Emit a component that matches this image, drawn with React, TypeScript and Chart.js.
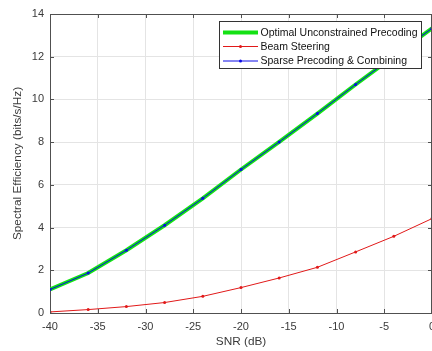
import React, { useEffect, useRef } from "react";
import { Chart, registerables } from "chart.js";

Chart.register(...registerables);

const snr = [-40, -36, -32, -28, -24, -20, -16, -12, -8, -4, 0];
const optimal = [1.1, 1.87, 2.94, 4.11, 5.37, 6.72, 8.01, 9.34, 10.7, 12.02, 13.33];
const beam = [0.05, 0.16, 0.3, 0.49, 0.78, 1.19, 1.64, 2.14, 2.86, 3.59, 4.42];
const sparse = [1.1, 1.87, 2.94, 4.11, 5.37, 6.72, 8.01, 9.34, 10.7, 12.02, 13.33];
const seriesNames = [
  "Optimal Unconstrained Precoding",
  "Beam Steering",
  "Sparse Precoding & Combining",
];
const xTitle = "SNR (dB)";
const yTitle = "Spectral Efficiency (bits/s/Hz)";

const GREEN = "rgb(20,225,20)";
const RED = "rgb(225,25,25)";
const BLUE = "rgb(10,10,230)";
const AXIS = "#505050";
const TEXT = "#3a3a3a";
const FONT = "'Liberation Sans', Arial, Helvetica, sans-serif";

const boxPlugin = {
  id: "matlabBox",
  afterDatasetsDraw(chart: any) {
    const { ctx, chartArea } = chart;
    const { left, right, top, bottom } = chartArea;
    ctx.save();
    ctx.strokeStyle = AXIS;
    ctx.lineWidth = 1;
    ctx.beginPath();
    ctx.moveTo(left, top + 0.5);
    ctx.lineTo(right, top + 0.5);
    ctx.moveTo(right - 0.5, top);
    ctx.lineTo(right - 0.5, bottom);
    ctx.stroke();
    // inward ticks
    const xs = chart.scales.x;
    const ys = chart.scales.y;
    ctx.beginPath();
    xs.ticks.forEach((t: any) => {
      const px = Math.round(xs.getPixelForValue(t.value)) + 0.5;
      ctx.moveTo(px, bottom);
      ctx.lineTo(px, bottom - 4);
      ctx.moveTo(px, top);
      ctx.lineTo(px, top + 4);
    });
    ys.ticks.forEach((t: any) => {
      const py = Math.round(ys.getPixelForValue(t.value)) + 0.5;
      ctx.moveTo(left, py);
      ctx.lineTo(left + 4, py);
      ctx.moveTo(right, py);
      ctx.lineTo(right - 4, py);
    });
    ctx.stroke();

    // legend
    const lx = 219.5, ly = 21.5, lw = 202, lh = 47;
    ctx.fillStyle = "#ffffff";
    ctx.fillRect(lx, ly, lw, lh);
    ctx.strokeStyle = "#333333";
    ctx.strokeRect(lx, ly, lw, lh);
    const rows = [32.5, 46.5, 61];
    const colors = [GREEN, RED, BLUE];
    const widths = [4, 1, 1];
    ctx.font = `10.5px ${FONT}`;
    ctx.textBaseline = "middle";
    ctx.textAlign = "left";
    rows.forEach((ry, i) => {
      ctx.strokeStyle = colors[i];
      ctx.lineWidth = widths[i];
      ctx.beginPath();
      ctx.moveTo(223, ry);
      ctx.lineTo(258, ry);
      ctx.stroke();
      if (i > 0) {
        ctx.fillStyle = colors[i];
        ctx.beginPath();
        ctx.arc(240.5, ry, 1.5, 0, Math.PI * 2);
        ctx.fill();
      }
      ctx.fillStyle = "#111111";
      ctx.fillText(seriesNames[i], 260.5, ry + 0.5);
    });
    ctx.restore();
  },
};

export default function App() {
  const ref = useRef<HTMLCanvasElement | null>(null);
  useEffect(() => {
    if (!ref.current) return;
    const toPts = (arr: number[]) => snr.map((x, i) => ({ x, y: arr[i] }));
    const chart = new Chart(ref.current, {
      type: "line",
      data: {
        datasets: [
          {
            label: seriesNames[0],
            data: toPts(optimal),
            borderColor: GREEN,
            backgroundColor: GREEN,
            borderWidth: 4,
            pointRadius: 0,
            order: 2,
          },
          {
            label: seriesNames[1],
            data: toPts(beam),
            borderColor: RED,
            backgroundColor: RED,
            borderWidth: 1,
            pointRadius: 1.5,
            pointBorderWidth: 0,
            order: 1,
          },
          {
            label: seriesNames[2],
            data: toPts(sparse),
            borderColor: BLUE,
            backgroundColor: BLUE,
            borderWidth: 1,
            pointRadius: 1.5,
            pointBorderWidth: 0,
            order: 0,
          },
        ],
      },
      options: {
        animation: false,
        responsive: false,
        maintainAspectRatio: false,
        layout: { padding: { left: 0, top: 14, right: 20, bottom: 0 } },
        plugins: { legend: { display: false }, tooltip: { enabled: false } },
        elements: { line: { tension: 0 } },
        scales: {
          x: {
            type: "linear",
            min: -40,
            max: 0,
            ticks: {
              stepSize: 5,
              color: TEXT,
              font: { family: FONT, size: 11 },
              padding: 7,
            },
            grid: { color: "#e4e4e4", drawTicks: false },
            border: { display: true, color: AXIS, width: 1 },
            title: {
              display: true,
              text: xTitle,
              color: TEXT,
              font: { family: FONT, size: 11.8 },
              padding: { top: 0, bottom: 2 },
            },
            afterFit(scale: any) {
              scale.height = 38;
            },
          },
          y: {
            type: "linear",
            min: 0,
            max: 14,
            ticks: {
              stepSize: 2,
              color: TEXT,
              font: { family: FONT, size: 11 },
              padding: 6,
            },
            grid: { color: "#e4e4e4", drawTicks: false },
            border: { display: true, color: AXIS, width: 1 },
            title: {
              display: true,
              text: yTitle,
              color: TEXT,
              font: { family: FONT, size: 11.8 },
              padding: { top: 11, bottom: 11 },
            },
            afterFit(scale: any) {
              scale.width = 50;
            },
          },
        },
      },
      plugins: [boxPlugin],
    } as any);
    return () => chart.destroy();
  }, []);
  return (
    <div
      style={{
        position: "absolute",
        left: 0,
        top: 0,
        width: 432,
        height: 351,
        overflow: "hidden",
        background: "#fff",
      }}
    >
      <canvas ref={ref} width={452} height={351} style={{ display: "block", width: 452, height: 351 }} />
    </div>
  );
}
